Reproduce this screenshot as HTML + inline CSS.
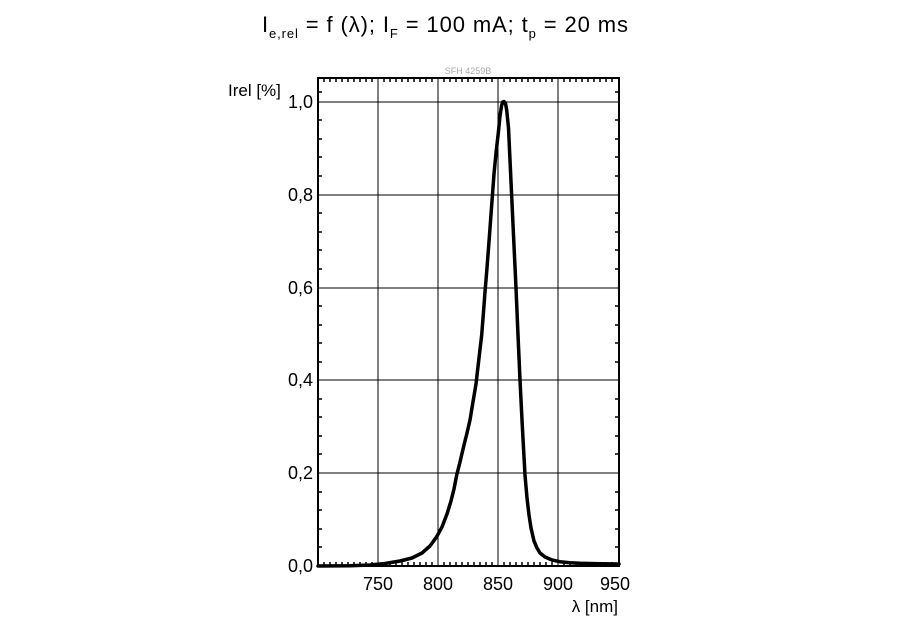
<!DOCTYPE html>
<html><head><meta charset="utf-8"><style>body{margin:0;background:#fff}svg{display:block}</style></head>
<body>
<svg width="920" height="626" xmlns="http://www.w3.org/2000/svg" font-family="Liberation Sans, Arial, sans-serif">
<text x="262" y="32" font-size="22" textLength="366" lengthAdjust="spacing">I<tspan font-size="13" dy="6">e,rel</tspan><tspan dy="-6"> = f (λ); I</tspan><tspan font-size="13" dy="6">F</tspan><tspan dy="-6"> = 100 mA; t</tspan><tspan font-size="13" dy="6">p</tspan><tspan dy="-6"> = 20 ms</tspan></text>
<text x="468" y="74" font-size="9" fill="#aaa" text-anchor="middle">SFH 4259B</text>
<text x="228" y="96" font-size="17">Irel [%]</text>
<g stroke="#000" stroke-width="1">
<line x1="378" y1="78" x2="378" y2="566"/><line x1="438" y1="78" x2="438" y2="566"/><line x1="498" y1="78" x2="498" y2="566"/><line x1="558" y1="78" x2="558" y2="566"/>
<line x1="318" y1="102" x2="619" y2="102"/><line x1="318" y1="195" x2="619" y2="195"/><line x1="318" y1="288" x2="619" y2="288"/><line x1="318" y1="380" x2="619" y2="380"/><line x1="318" y1="473" x2="619" y2="473"/>
</g>
<g stroke="#000" stroke-width="1.5">
<path d="M324 78v4M330 78v4M336 78v4M342 78v4M348 78v4M354 78v4M360 78v4M366 78v4M372 78v4M384 78v4M390 78v4M396 78v4M402 78v4M408 78v4M414 78v4M420 78v4M426 78v4M432 78v4M444 78v4M450 78v4M456 78v4M462 78v4M468 78v4M474 78v4M480 78v4M486 78v4M492 78v4M504 78v4M510 78v4M516 78v4M522 78v4M528 78v4M534 78v4M540 78v4M546 78v4M552 78v4M564 78v4M570 78v4M576 78v4M582 78v4M588 78v4M594 78v4M600 78v4M606 78v4M612 78v4
M324 566v-4M330 566v-4M336 566v-4M342 566v-4M348 566v-4M354 566v-4M360 566v-4M366 566v-4M372 566v-4M384 566v-4M390 566v-4M396 566v-4M402 566v-4M408 566v-4M414 566v-4M420 566v-4M426 566v-4M432 566v-4M444 566v-4M450 566v-4M456 566v-4M462 566v-4M468 566v-4M474 566v-4M480 566v-4M486 566v-4M492 566v-4M504 566v-4M510 566v-4M516 566v-4M522 566v-4M528 566v-4M534 566v-4M540 566v-4M546 566v-4M552 566v-4M564 566v-4M570 566v-4M576 566v-4M582 566v-4M588 566v-4M594 566v-4M600 566v-4M606 566v-4M612 566v-4
M318 120h4M318 139h4M318 157h4M318 176h4M318 213h4M318 232h4M318 250h4M318 269h4M318 306h4M318 325h4M318 343h4M318 362h4M318 399h4M318 417h4M318 436h4M318 454h4M318 492h4M318 510h4M318 529h4M318 547h4M318 92h4
M619 120h-4M619 139h-4M619 157h-4M619 176h-4M619 213h-4M619 232h-4M619 250h-4M619 269h-4M619 306h-4M619 325h-4M619 343h-4M619 362h-4M619 399h-4M619 417h-4M619 436h-4M619 454h-4M619 492h-4M619 510h-4M619 529h-4M619 547h-4M619 92h-4"/>
</g>
<rect x="318" y="78" width="301" height="488" fill="none" stroke="#000" stroke-width="2"/>
<g font-size="18" text-anchor="end">
<text x="313" y="108">1,0</text><text x="313" y="201">0,8</text><text x="313" y="294">0,6</text><text x="313" y="386">0,4</text><text x="313" y="479">0,2</text><text x="313" y="572">0,0</text>
</g>
<g font-size="18" text-anchor="middle">
<text x="378" y="590">750</text><text x="438" y="590">800</text><text x="498" y="590">850</text><text x="558" y="590">900</text><text x="615" y="590">950</text>
</g>
<text x="618" y="612" font-size="17" text-anchor="end">λ [nm]</text>
<polyline fill="none" stroke="#000" stroke-width="3.5" stroke-linejoin="round" stroke-linecap="round"
points="318,566 350,565.7 370,565 385,563.5 400,561 412,558 422,553 430,546 436.7,536.7 442,527 447,514 451,501 454,489 456.7,475 460,462 464,445 467,433 470,420 473.3,400 476,384 479,358 481.7,335 483.5,312 485,292 487,268 489.5,235 491.7,205 494,174 496,153 498.3,133 500,116 501.5,106 502.7,102 504,101.5 505.5,103.5 506.7,110 508.5,128 510,160 511.7,196.7 513.5,235 516,288 518,335 520,380 522,420 523.5,448 525,475 527,498 529,515 531,528 534,541 537,548 540,553 545,557 552,560 560,561.7 570,562.8 580,563.3 600,563.8 619,564"/>
</svg>
</body></html>
